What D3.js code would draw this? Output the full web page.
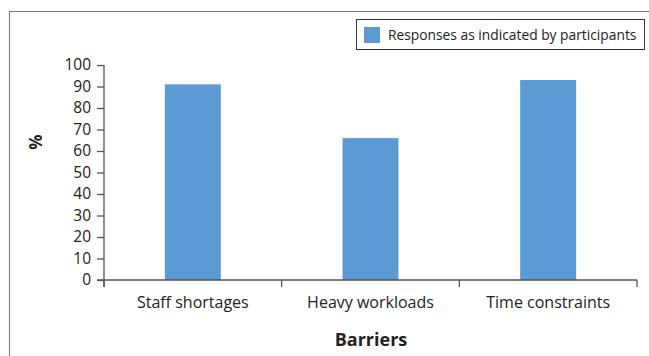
<!DOCTYPE html>
<html lang="en">
<head>
  <meta charset="UTF-8">
  <title>Barriers</title>
  <script src="https://cdn.jsdelivr.net/npm/d3@7"></script>
  <style>
    body { margin: 0; background: #fff; }
    svg text { font-family: "Open Sans", sans-serif; fill: #222; }
  </style>
</head>
<body>
  <svg width="649" height="356"></svg>
  <script>
    const categories = ["Staff shortages", "Heavy workloads", "Time constraints"];
    const values = [91, 66, 93];
    const yTicks = [0, 10, 20, 30, 40, 50, 60, 70, 80, 90, 100];
    const seriesName = "Responses as indicated by participants";

    const svg = d3.select("svg");
    const barColor = "#5b9bd5";

    // outer frame (clipped by window on right/bottom)
    svg.append("rect")
      .attr("x", 9.5).attr("y", 11.5)
      .attr("width", 660).attr("height", 360)
      .attr("fill", "none").attr("stroke", "#777").attr("stroke-width", 1);

    const x = d3.scaleBand()
      .domain(categories)
      .range([104, 637])
      .paddingInner(0.685)
      .paddingOuter(0.3425);

    const y = d3.scaleLinear().domain([0, 100]).range([280, 65]);

    svg.append("g")
      .selectAll("rect")
      .data(values)
      .join("rect")
      .attr("x", (d, i) => x(categories[i]))
      .attr("y", d => y(d))
      .attr("width", x.bandwidth())
      .attr("height", d => y(0) - y(d))
      .attr("fill", barColor);

    // y axis
    const yAxis = svg.append("g")
      .attr("transform", "translate(104,0)")
      .call(d3.axisLeft(y).tickValues(yTicks).tickSize(7).tickPadding(6));
    yAxis.select(".domain").attr("d", "M0,65V287").attr("stroke", "#555").attr("stroke-width", 1.3);
    yAxis.selectAll(".tick line").attr("stroke", "#555").attr("stroke-width", 1.3);
    yAxis.selectAll("text").style("font-size", "15.5px").attr("fill", "#222");

    // x axis with category boundary ticks
    const xAxisG = svg.append("g").attr("transform", "translate(0,280)");
    xAxisG.append("line")
      .attr("x1", 97).attr("x2", 637)
      .attr("stroke", "#555").attr("stroke-width", 1.3);
    const edges = [104].concat(categories.map((c, i) => 104 + x.step() * (i + 1)));
    xAxisG.selectAll("line.tk")
      .data(edges)
      .join("line")
      .attr("class", "tk")
      .attr("x1", d => d).attr("x2", d => d)
      .attr("y1", 0).attr("y2", 7)
      .attr("stroke", "#555").attr("stroke-width", 1.3);
    xAxisG.selectAll("text")
      .data(categories)
      .join("text")
      .attr("x", d => x(d) + x.bandwidth() / 2)
      .attr("y", 28)
      .attr("text-anchor", "middle")
      .style("font-size", "16px")
      .text(d => d);

    // axis titles
    svg.append("text")
      .attr("x", 371).attr("y", 346)
      .attr("text-anchor", "middle")
      .style("font-size", "18px").style("font-weight", "bold")
      .text("Barriers");
    svg.append("text")
      .attr("transform", "translate(42,142) rotate(-90)")
      .attr("text-anchor", "middle")
      .style("font-size", "17px").style("font-weight", "bold")
      .text("%");

    // legend
    const lg = svg.append("g");
    lg.append("rect")
      .attr("x", 356.5).attr("y", 19.5)
      .attr("width", 288).attr("height", 30)
      .attr("fill", "#fff").attr("stroke", "#333").attr("stroke-width", 1);
    lg.append("rect")
      .attr("x", 364).attr("y", 27)
      .attr("width", 16).attr("height", 16)
      .attr("fill", barColor);
    lg.append("text")
      .attr("x", 388).attr("y", 40)
      .style("font-size", "13.8px")
      .text(seriesName);
  </script>
</body>
</html>
